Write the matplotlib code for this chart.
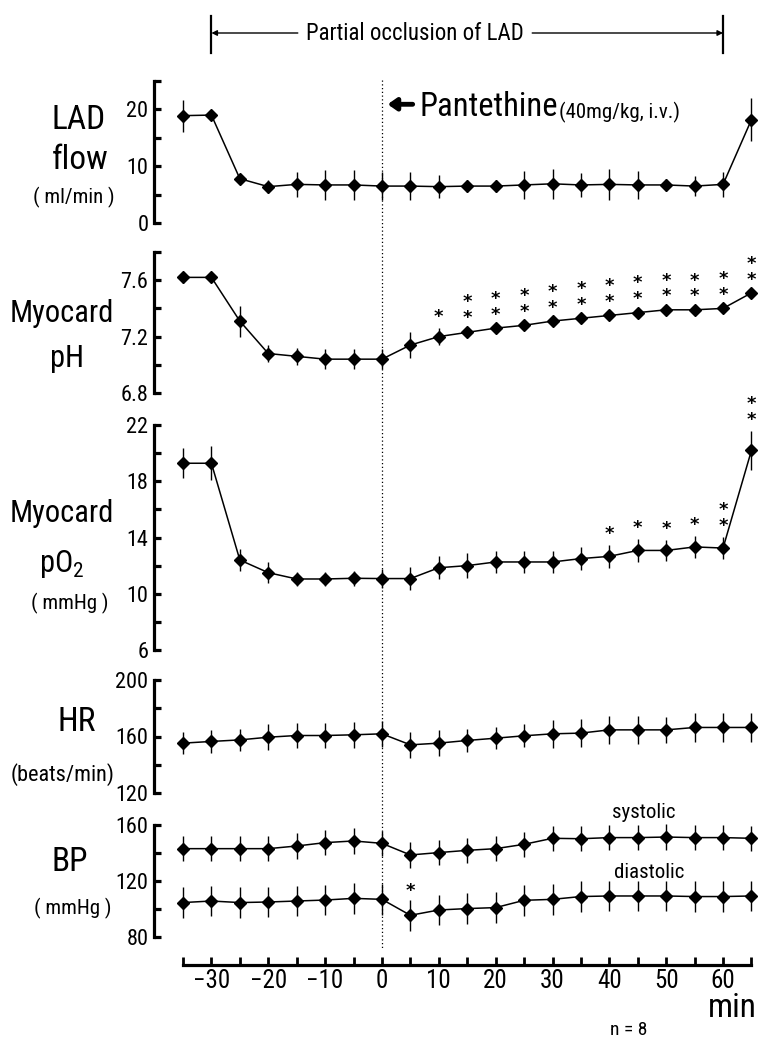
import matplotlib
matplotlib.use("Agg")
import matplotlib.pyplot as plt
from matplotlib import font_manager as fm
from matplotlib.transforms import blended_transform_factory
from matplotlib.lines import Line2D
from matplotlib.text import Annotation

# ---------------- data ----------------
time = [-35, -30, -25, -20, -15, -10, -5, 0, 5, 10, 15, 20, 25, 30, 35, 40, 45, 50, 55, 60, 65]

lad_flow = [18.9, 19.0, 7.8, 6.4, 6.8, 6.7, 6.7, 6.5, 6.5, 6.4, 6.5, 6.5, 6.7, 6.9, 6.7, 6.8, 6.7, 6.7, 6.5, 6.8, 18.2]
lad_se = [2.8, 0.5, 0.8, 1.2, 2.2, 2.7, 2.7, 2.4, 2.4, 2.0, 1.0, 1.0, 2.5, 2.6, 2.1, 2.7, 2.4, 1.0, 1.8, 2.2, 3.8]

ph = [7.62, 7.62, 7.31, 7.08, 7.06, 7.04, 7.04, 7.04, 7.14, 7.20, 7.23, 7.26, 7.28, 7.31, 7.33, 7.35, 7.37, 7.39, 7.39, 7.40, 7.51]
ph_se = [0.04, 0.03, 0.11, 0.06, 0.06, 0.07, 0.07, 0.07, 0.09, 0.06, 0.03, 0.02, 0.02, 0.02, 0.02, 0.02, 0.02, 0.02, 0.02, 0.02, 0.02]
ph_stars = [0, 0, 0, 0, 0, 0, 0, 0, 0, 1, 2, 2, 2, 2, 2, 2, 2, 2, 2, 2, 2]

po2 = [19.28, 19.28, 12.4, 11.5, 11.05, 11.05, 11.1, 11.08, 11.08, 11.85, 12.0, 12.26, 12.26, 12.26, 12.5, 12.66, 13.08, 13.08, 13.33, 13.25, 20.2]
po2_se = [1.07, 1.2, 0.77, 0.77, 0.5, 0.5, 0.55, 0.7, 0.8, 0.8, 0.9, 0.77, 0.8, 0.77, 0.8, 0.8, 0.8, 0.77, 0.8, 0.8, 1.4]
po2_stars = [0, 0, 0, 0, 0, 0, 0, 0, 0, 0, 0, 0, 0, 0, 0, 1, 1, 1, 1, 2, 2]

hr = [155.3, 156.5, 157.6, 159.5, 160.7, 160.7, 161.2, 161.9, 154.1, 155.3, 157.2, 158.8, 160.5, 161.9, 162.4, 164.7, 164.7, 164.7, 166.4, 166.4, 166.4]
hr_se = [8, 8, 8, 9, 9, 9, 9, 9, 9, 9, 8, 8, 8, 10, 10, 10, 10, 9, 10, 10, 10]

bp_sys = [143.1, 143.1, 143.1, 143.1, 145.0, 147.4, 148.6, 146.9, 138.6, 140.3, 141.9, 143.1, 146.2, 150.5, 150.2, 151.0, 151.0, 151.4, 151.0, 151.0, 150.5]
bp_sys_se = [9] * 21
bp_dia = [104.6, 105.7, 104.6, 105.0, 105.7, 106.4, 107.6, 106.9, 95.5, 99.3, 100.3, 101.0, 106.2, 106.9, 108.9, 109.3, 109.3, 109.3, 108.9, 108.9, 109.3]
bp_dia_se = [11] * 21
bp_dia_stars = [0, 0, 0, 0, 0, 0, 0, 0, 1, 0, 0, 0, 0, 0, 0, 0, 0, 0, 0, 0, 0]

xtick_major = [-30, -20, -10, 0, 10, 20, 30, 40, 50, 60]
xtick_labels = ['\u221230', '\u221220', '\u221210', '0', '10', '20', '30', '40', '50', '60']
xtick_minor = [-35, -25, -15, -5, 5, 15, 25, 35, 45, 55, 65]
occlusion = (-30, 60)
drug_time = 0

# ---------------- fonts ----------------
names = {f.name for f in fm.fontManager.ttflist}
NARROW = 'DejaVu Sans'
for cand in ['Roboto Condensed', 'PT Sans Narrow', 'Archivo Narrow', 'Liberation Sans Narrow', 'Liberation Sans']:
    if cand in names:
        NARROW = cand
        break
plt.rcParams['font.family'] = [NARROW, 'DejaVu Sans']
plt.rcParams['mathtext.fontset'] = 'custom'
plt.rcParams['mathtext.rm'] = NARROW

W, H = 760, 1039
fig = plt.figure(figsize=(W / 100, H / 100), dpi=100)
XL = (-40.1, 66.5)
LEFT_PX = 154


def add_panel(top_px, bot_px, ylim, majors, minors):
    ax = fig.add_axes([LEFT_PX / W, 1 - bot_px / H, (W - LEFT_PX) / W, (bot_px - top_px) / H])
    ax.set_xlim(*XL)
    ax.set_ylim(*ylim)
    ax.patch.set_alpha(0)
    for s in ('top', 'right', 'bottom'):
        ax.spines[s].set_visible(False)
    ax.spines['left'].set_linewidth(2.3)
    ax.spines['left'].set_bounds(*ylim)
    ax.set_yticks(majors)
    ax.set_yticks(minors, minor=True)
    ax.tick_params(axis='y', which='both', direction='in', length=5, width=2.3, labelsize=16, pad=4)
    ax.tick_params(axis='x', which='both', bottom=False, labelbottom=False)
    return ax


def draw_series(ax, y, se):
    ax.errorbar(time, y, yerr=se, fmt='-', color='black', lw=1.1, elinewidth=1.0,
                capsize=0, marker='D', markersize=5.8, clip_on=False, zorder=3)


def draw_stars(ax, y, se, stars, first=11, step=15):
    for t, v, e, n in zip(time, y, se, stars):
        if n == 0:
            continue
        ax.annotate('\n'.join(['*'] * n), xy=(t, v + e), xytext=(0, first + (n - 1) * step / 2),
                    textcoords='offset pixels', ha='center', va='center', ma='center',
                    fontsize=13, fontweight='bold', family='DejaVu Sans', linespacing=0.85,
                    annotation_clip=False)


# LAD flow
ax1 = add_panel(81, 223, (0, 25), [0, 10, 20], [5, 15, 25])
draw_series(ax1, lad_flow, lad_se)

# pH
ax2 = add_panel(252, 393, (6.8, 7.8), [6.8, 7.2, 7.6], [7.0, 7.4, 7.8])
ax2.set_yticklabels(['6.8', '7.2', '7.6'])
draw_series(ax2, ph, ph_se)
draw_stars(ax2, ph, ph_se, ph_stars)

# pO2
ax3 = add_panel(425, 650, (6, 22), [6, 10, 14, 18, 22], [8, 12, 16, 20])
draw_series(ax3, po2, po2_se)
draw_stars(ax3, po2, po2_se, po2_stars)

# HR
ax4 = add_panel(680, 793, (120, 200), [120, 160, 200], [140, 180])
draw_series(ax4, hr, hr_se)

# BP
ax5 = add_panel(825, 937, (80, 160), [80, 120, 160], [100, 140])
draw_series(ax5, bp_sys, bp_sys_se)
draw_series(ax5, bp_dia, bp_dia_se)
draw_stars(ax5, bp_dia, bp_dia_se, bp_dia_stars, first=9)

ax5.spines['bottom'].set_visible(True)
ax5.spines['bottom'].set_position(('outward', 20))
ax5.spines['bottom'].set_linewidth(2.3)
ax5.spines['bottom'].set_bounds(-35, 65)
ax5.set_xticks(xtick_major)
ax5.set_xticklabels(xtick_labels)
ax5.set_xticks(xtick_minor, minor=True)
ax5.tick_params(axis='x', which='both', bottom=True, labelbottom=True, direction='in',
                length=6, width=2.0, labelsize=18, pad=3)

# vertical dotted line at drug administration
tr = blended_transform_factory(ax1.transData, fig.transFigure)
fig.add_artist(Line2D([drug_time, drug_time], [1 - 80 / H, 1 - 950 / H], transform=tr,
                      color='black', lw=0.9, ls=(0, (1, 2))))

# occlusion bracket
for xb in occlusion:
    fig.add_artist(Line2D([xb, xb], [1 - 16 / H, 1 - 53 / H], transform=tr, color='black', lw=1.6))
ytop = 1 - 33 / H
occ_txt = fig.text(415 / W, ytop, 'Partial occlusion of LAD', ha='center', va='center', fontsize=16.5)
arrow_kw = dict(arrowstyle='-|>', color='black', lw=1.0, mutation_scale=8, shrinkA=6, shrinkB=0)
fig.add_artist(Annotation('', xy=(occlusion[0], ytop), xycoords=tr,
                          xytext=(0, 0.5), textcoords=occ_txt, arrowprops=arrow_kw))
fig.add_artist(Annotation('', xy=(occlusion[1], ytop), xycoords=tr,
                          xytext=(1, 0.5), textcoords=occ_txt, arrowprops=arrow_kw))

# Pantethine annotation
ax1.annotate('', xy=(1.0, 20.9), xytext=(5.4, 20.9),
             arrowprops=dict(arrowstyle='-|>,head_length=0.5,head_width=0.35', color='black', lw=3.5,
                             shrinkA=0, shrinkB=0), annotation_clip=False)
pant = ax1.text(6.6, 18.8, 'Pantethine', ha='left', va='baseline', fontsize=23.5)
ax1.annotate('(40mg/kg, i.v.)', xy=(1, 0), xycoords=pant, xytext=(1, 0), textcoords='offset points',
             ha='left', va='bottom', fontsize=15, annotation_clip=False)

# panel labels
def lab(x, y, s, size):
    fig.text(x / W, 1 - y / H, s, ha='center', va='center', fontsize=size)

lab(79, 120, 'LAD', 24)
lab(80, 160, 'flow', 24)
lab(74, 197, '( ml/min )', 15)
lab(62, 313, 'Myocard', 22)
lab(67, 358, 'pH', 22)
lab(62, 514, 'Myocard', 22)
lab(62, 564, 'pO$_2$', 22)
lab(70, 603, '( mmHg )', 15)
lab(77, 722, 'HR', 24)
lab(63, 775, '(beats/min)', 16)
lab(70, 862, 'BP', 24)
lab(73, 908, '( mmHg )', 15)

fig.text(644 / W, 1 - 812 / H, 'systolic', ha='center', va='center', fontsize=15)
fig.text(649 / W, 1 - 873 / H, 'diastolic', ha='center', va='center', fontsize=15)
fig.text(757 / W, 1 - 1008 / H, 'min', ha='right', va='center', fontsize=24)
fig.text(629 / W, 1 - 1030 / H, 'n = 8', ha='center', va='center', fontsize=14)

fig.savefig('out.png', dpi=100)
